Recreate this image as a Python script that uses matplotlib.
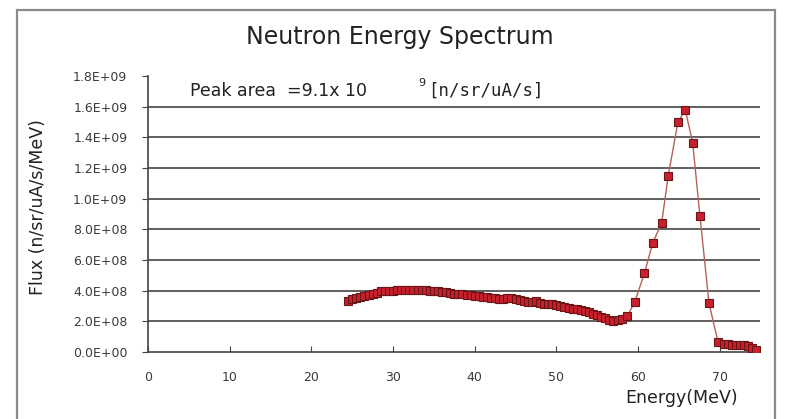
import matplotlib
matplotlib.use("Agg")
import matplotlib.pyplot as plt
from matplotlib.ticker import FuncFormatter, MultipleLocator
from matplotlib.patches import Rectangle

# Neutron energy spectrum (MeV vs flux in n/sr/uA/s/MeV)
energy_low = [24.5, 25.0, 25.5, 26.0, 26.5, 27.0, 27.5, 28.0, 28.5, 29.0,
              29.5, 30.0, 30.5, 31.0, 31.5, 32.0, 32.5, 33.0, 33.5, 34.0,
              34.5, 35.0, 35.5, 36.0, 36.5, 37.0, 37.5, 38.0, 38.5, 39.0,
              39.5, 40.0, 40.5, 41.0, 41.5, 42.0, 42.5, 43.0, 43.5, 44.0,
              44.5, 45.0, 45.5, 46.0, 46.5, 47.0, 47.5, 48.0, 48.5, 49.0,
              49.5, 50.0, 50.5, 51.0, 51.5, 52.0, 52.5, 53.0, 53.5, 54.0,
              54.5, 55.0, 55.5, 56.0, 56.5, 57.0, 57.5, 58.0]
flux_low = [0.335, 0.345, 0.350, 0.360, 0.365, 0.370, 0.375, 0.385, 0.400, 0.395,
            0.400, 0.400, 0.405, 0.405, 0.405, 0.405, 0.405, 0.405, 0.403, 0.402,
            0.400, 0.398, 0.395, 0.393, 0.390, 0.385, 0.380, 0.378, 0.375, 0.372,
            0.370, 0.365, 0.362, 0.360, 0.358, 0.355, 0.350, 0.345, 0.345, 0.350,
            0.352, 0.348, 0.340, 0.332, 0.325, 0.328, 0.330, 0.322, 0.315, 0.312,
            0.310, 0.305, 0.300, 0.295, 0.285, 0.280, 0.278, 0.272, 0.265, 0.258,
            0.250, 0.240, 0.230, 0.220, 0.210, 0.205, 0.210, 0.215]

energy_peak = [58.7, 59.6, 60.8, 61.8, 62.9, 63.7, 64.9, 65.8, 66.7, 67.6,
               68.7, 69.8, 70.5, 71.0, 71.5, 72.0, 72.5, 73.0, 73.5, 74.0, 74.5]
flux_peak = [0.235, 0.325, 0.514, 0.710, 0.841, 1.146, 1.500, 1.577, 1.364, 0.884,
             0.318, 0.067, 0.055, 0.050, 0.048, 0.047, 0.046, 0.045, 0.040, 0.025, 0.012]

energy = energy_low + energy_peak
flux = [v * 1e9 for v in flux_low + flux_peak]

y_ticks = [i * 0.2e9 for i in range(10)]

title = "Neutron Energy Spectrum"
xlabel = "Energy(MeV)"
ylabel = "Flux (n/sr/uA/s/MeV)"

plt.rcParams["font.family"] = ["DejaVu Sans"]

fig = plt.figure(figsize=(7.88, 4.19), dpi=100)
fig.patch.set_facecolor("white")

# outer frame of the chart area
fig.add_artist(Rectangle((0.021, -0.01), 0.963, 0.985, transform=fig.transFigure,
                         fill=False, edgecolor="#8a8a8a", linewidth=1.6))

ax = fig.add_axes([0.188, 0.160, 0.777, 0.659])
ax.set_xlim(0, 75)
ax.set_ylim(0, 1.8e9)

ax.set_yticks(y_ticks)
ax.xaxis.set_major_locator(MultipleLocator(10))
ax.yaxis.set_major_formatter(FuncFormatter(lambda v, p: f"{v:.1E}"))

# horizontal gridlines, none on the top edge
for yv in y_ticks[1:-1]:
    ax.axhline(yv, color="#444444", linewidth=1.2, zorder=0.5)

for side in ("top", "right"):
    ax.spines[side].set_visible(False)
for side in ("left", "bottom"):
    ax.spines[side].set_color("#444444")
    ax.spines[side].set_linewidth(1.2)

ax.tick_params(axis="y", direction="out", length=4, colors="#444444",
               labelcolor="#3a3a3a", labelsize=9, pad=11)
ax.tick_params(axis="x", direction="in", length=4, colors="#444444",
               labelcolor="#3a3a3a", labelsize=9, pad=14)

ax.plot(energy, flux, color="#b8605a", linewidth=1.0,
        marker="s", markersize=6, markerfacecolor="#c8202e",
        markeredgecolor="#6a1515", markeredgewidth=0.8, zorder=3)

fig.text(0.507, 0.912, title, ha="center", va="center", fontsize=17, color="#222222")
fig.text(0.937, 0.05, xlabel, ha="right", va="center", fontsize=12.5, color="#222222")
fig.text(0.048, 0.505, ylabel, ha="center", va="center", rotation=90,
         fontsize=12.5, color="#222222")

ax.text(0.069, 0.945, "Peak area  =9.1x 10", transform=ax.transAxes,
        ha="left", va="center", fontsize=12.5, color="#222222")
ax.text(0.441, 0.975, "9", transform=ax.transAxes,
        ha="left", va="center", fontsize=8, color="#222222")
ax.text(0.458, 0.945, "[n/sr/uA/s]", transform=ax.transAxes,
        ha="left", va="center", fontsize=12.5, color="#222222",
        family="DejaVu Sans Mono")

fig.savefig("out.png", dpi=100, facecolor="white")
